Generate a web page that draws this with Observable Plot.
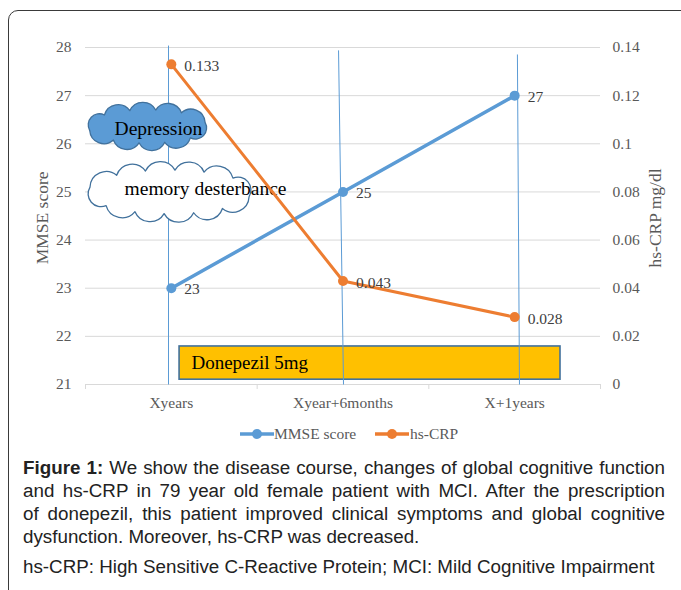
<!DOCTYPE html>
<html><head><meta charset="utf-8">
<script src="https://cdn.jsdelivr.net/npm/d3@7"></script>
<script src="https://cdn.jsdelivr.net/npm/@observablehq/plot@0.6"></script>
<style>
html,body{margin:0;padding:0;background:#fff;width:681px;height:590px;overflow:hidden;}
#frame{position:absolute;left:8px;top:10px;width:740px;height:640px;border:1.6px solid #3a3a3a;border-radius:10px;box-sizing:border-box;}
#chart{position:absolute;left:0;top:0;}
.leg{position:absolute;font-family:"Liberation Serif",serif;font-size:15.5px;color:#595959;line-height:20px;white-space:nowrap;}
.sw{position:absolute;}
#caption{position:absolute;left:23px;top:456px;width:642px;font-family:"Liberation Sans",Arial,sans-serif;font-size:18.8px;line-height:23px;color:#222;}
#caption .j{text-align:justify;text-align-last:justify;}
#caption .l{text-align:left;}
#caption .p2{margin-top:7px;text-align:left;}
</style></head>
<body>
<div id="frame"></div>
<div id="chart"></div>
<svg class="sw" style="left:240px;top:428px" width="34" height="12"><line x1="0" y1="6" x2="34" y2="6" stroke="#5B9BD5" stroke-width="3.5"/><circle cx="17" cy="6" r="5" fill="#5B9BD5"/></svg>
<div class="leg" style="left:274px;top:424px">MMSE score</div>
<svg class="sw" style="left:375px;top:428px" width="34" height="12"><line x1="0" y1="6" x2="34" y2="6" stroke="#ED7D31" stroke-width="3.5"/><circle cx="17" cy="6" r="5" fill="#ED7D31"/></svg>
<div class="leg" style="left:410px;top:424px">hs-CRP</div>
<div id="caption">
<div class="j"><b>Figure 1:</b> We show the disease course, changes of global cognitive function</div>
<div class="j">and hs-CRP in 79 year old female patient with MCI. After the prescription</div>
<div class="j">of donepezil, this patient improved clinical symptoms and global cognitive</div>
<div class="l">dysfunction. Moreover, hs-CRP was decreased.</div>
<div class="p2">hs-CRP: High Sensitive C-Reactive Protein; MCI: Mild Cognitive Impairment</div>
</div>
<script>
// ---- data ----
const categories = ["Xyears", "Xyear+6months", "X+1years"];
const mmse = [23, 25, 27];
const hsCRP = [0.133, 0.043, 0.028];
const mmseTicks = [21, 22, 23, 24, 25, 26, 27, 28];
const crpTickLabels = ["0", "0.02", "0.04", "0.06", "0.08", "0.1", "0.12", "0.14"];
const crpMax = 0.14;

// ---- annotations (in data units) ----
const clouds = [
  {label: "Depression", x1: -0.03, x2: 0.757, y1: 26.86, y2: 25.84, fill: "#5B9BD5", bumps: 10, sag: 8, tx: 0.425, ty: 26.32},
  {label: "memory desterbance", x1: -0.035, x2: 1.02, y1: 25.63, y2: 24.35, fill: "#FFFFFF", bumps: 12, sag: 9, tx: 0.699, ty: 25.07}
];
const drugBox = [{label: "Donepezil 5mg", x1: 0.548, x2: 2.767, y1: 21.79, y2: 21.10, tx: 0.617, ty: 21.455}];
const guides = [
  {x1: 0.4835, y1: 21, x2: 0.4835, y2: 28.04},
  {x1: 1.503, y1: 21, x2: 1.474, y2: 27.94},
  {x1: 2.528, y1: 21, x2: 2.516, y2: 27.855}
];

const crpToY = v => mmseTicks[0] + v / crpMax * (mmseTicks[mmseTicks.length - 1] - mmseTicks[0]);
const mmseData = categories.map((c, i) => ({pos: i + 0.5, v: mmse[i]}));
const crpData = categories.map((c, i) => ({pos: i + 0.5, v: hsCRP[i], y: crpToY(hsCRP[i])}));

// scalloped outline: N shallow arcs on an inner ellipse
function cloudPath(x, y, w, h, N, s) {
  const cx = x + w / 2, cy = y + h / 2, a = w / 2 - s, b = h / 2 - s;
  const M = 1440, pts = [], cum = [0];
  for (let i = 0; i <= M; i++) {
    const t = -Math.PI / 2 - 0.3 + 2 * Math.PI * i / M;
    pts.push([cx + a * Math.cos(t), cy + b * Math.sin(t)]);
    if (i > 0) cum.push(cum[i - 1] + Math.hypot(pts[i][0] - pts[i - 1][0], pts[i][1] - pts[i - 1][1]));
  }
  const P = cum[M];
  const sel = []; let j = 0;
  for (let n = 0; n < N; n++) { const L = P * n / N; while (cum[j] < L) j++; sel.push(pts[j]); }
  let d = `M${sel[0][0]},${sel[0][1]}`;
  for (let n = 1; n <= N; n++) {
    const p = sel[n % N], q = sel[n - 1];
    const c = Math.hypot(p[0] - q[0], p[1] - q[1]);
    const ss = Math.min(s, c * 0.5);
    const r = (c * c / 4 + ss * ss) / (2 * ss);
    d += `A${r},${r} 0 0 1 ${p[0]},${p[1]}`;
  }
  return d + "Z";
}
function cloudMark(list) {
  return function () {
    const sc = [...arguments].find(a => a && typeof a.x === "function" && typeof a.y === "function");
    const g = d3.create("svg:g");
    for (const c of list) {
      const xa = sc.x(c.x1), xb = sc.x(c.x2), ya = sc.y(c.y1), yb = sc.y(c.y2);
      g.append("path")
        .attr("d", cloudPath(Math.min(xa, xb), Math.min(ya, yb), Math.abs(xb - xa), Math.abs(yb - ya), c.bumps, c.sag))
        .attr("fill", c.fill).attr("stroke", "#41719C").attr("stroke-width", 1.3).attr("stroke-linejoin", "round");
    }
    return g.node();
  };
}

const chart = Plot.plot({
  width: 681, height: 450,
  marginLeft: 85, marginRight: 81, marginTop: 47, marginBottom: 66,
  x: {type: "linear", domain: [0, categories.length], axis: null},
  y: {domain: [mmseTicks[0], mmseTicks[mmseTicks.length - 1]], axis: null},
  style: {fontFamily: "'Liberation Serif', serif", fontSize: "15.5px", background: "transparent", overflow: "visible"},
  marks: [
    Plot.ruleY(mmseTicks, {stroke: "#D9D9D9", strokeWidth: 1}),
    Plot.axisX({ticks: d3.range(categories.length + 1), tickSize: 5, tickFormat: () => "", stroke: "#D9D9D9", label: null}),
    Plot.axisX({ticks: categories.map((c, i) => i + 0.5), tickSize: 0, tickPadding: 12, tickFormat: d => categories[Math.floor(d)], fill: "#595959", fontSize: 15.5, label: null}),
    Plot.axisY({anchor: "left", ticks: mmseTicks, tickSize: 0, tickPadding: 14, tickFormat: d => String(d), fill: "#595959", fontSize: 15.5, label: null}),
    Plot.axisY({anchor: "right", ticks: mmseTicks, tickSize: 0, tickPadding: 12, tickFormat: d => crpTickLabels[Math.round(d - mmseTicks[0])], fill: "#595959", fontSize: 15.5, label: null}),
    Plot.text(["MMSE score"], {x: 0, y: 24.46, dx: -43, rotate: -90, fill: "#595959", fontSize: 17.5}),
    Plot.text(["hs-CRP mg/dl"], {x: categories.length, y: 24.46, dx: 55, rotate: -90, fill: "#595959", fontSize: 17.5}),
    Plot.rect(drugBox, {x1: "x1", x2: "x2", y1: "y1", y2: "y2", fill: "#FFC000", stroke: "#41719C", strokeWidth: 1.6}),
    Plot.text(drugBox, {x: "tx", y: "ty", text: "label", textAnchor: "start", fill: "#000", fontSize: 19}),
    Plot.link(guides, {x1: "x1", y1: "y1", x2: "x2", y2: "y2", stroke: "#5B9BD5", strokeWidth: 1}),
    cloudMark(clouds),
    Plot.text(clouds, {x: "tx", y: "ty", text: "label", fill: "#000", fontSize: 19.5}),
    Plot.line(mmseData, {x: "pos", y: "v", stroke: "#5B9BD5", strokeWidth: 3.5}),
    Plot.dot(mmseData, {x: "pos", y: "v", r: 5, fill: "#5B9BD5"}),
    Plot.line(crpData, {x: "pos", y: "y", stroke: "#ED7D31", strokeWidth: 3}),
    Plot.dot(crpData, {x: "pos", y: "y", r: 5, fill: "#ED7D31"}),
    Plot.text(mmseData, {x: "pos", y: "v", text: d => String(d.v), dx: 13, dy: 1, textAnchor: "start", fill: "#404040", fontSize: 15.5}),
    Plot.text(crpData, {x: "pos", y: "y", text: d => String(d.v), dx: 13, dy: 2, textAnchor: "start", fill: "#404040", fontSize: 15.5})
  ]
});
document.getElementById("chart").appendChild(chart);
</script>
</body></html>
